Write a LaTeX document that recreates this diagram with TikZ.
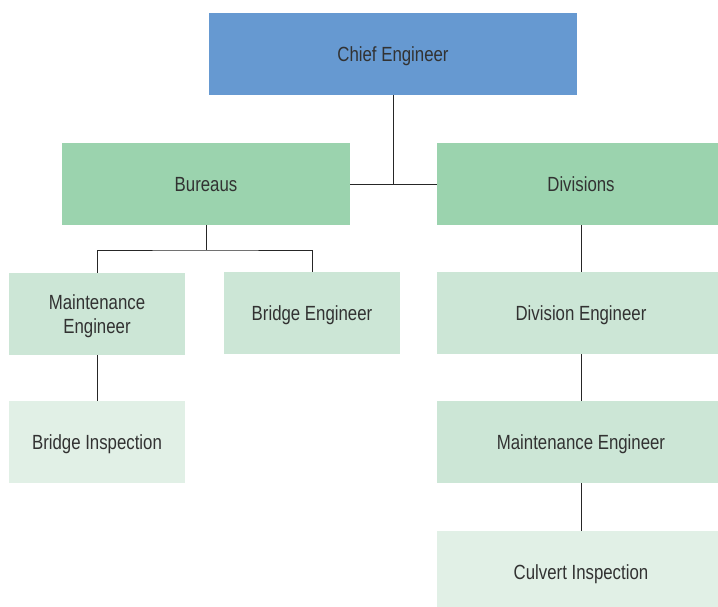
\documentclass[tikz,border=0pt]{standalone}
\usepackage{fontspec}
\setmainfont{Liberation Sans}[FakeStretch=0.82]
\usepackage{tikz}
\usetikzlibrary{positioning}

\definecolor{chiefblue}{RGB}{102,153,209}
\definecolor{levelgreen}{RGB}{155,211,174}
\definecolor{lightgreen}{RGB}{204,230,214}
\definecolor{palegreen}{RGB}{225,240,230}
\definecolor{textgray}{RGB}{50,50,50}

\begin{document}
\begin{tikzpicture}[x=1pt, y=-1pt,
      box/.style ={rectangle, draw=none, inner sep=0pt, text=textgray,
        align=center, minimum height=82pt, text depth=0pt,
        font=\fontsize{20.5}{24}\selectfont},
      block_top/.style ={box, fill=chiefblue, minimum width=368pt},
      block_wide/.style ={box, fill=levelgreen, minimum width=288pt},
      block_small/.style ={box, fill=lightgreen, minimum width=176pt},
      block_right/.style ={box, fill=lightgreen, minimum width=288pt},
      block_leaf/.style ={box, fill=palegreen, minimum width=176pt},
      block_leaf_right/.style ={box, fill=palegreen, minimum width=288pt},
      line/.style ={draw, line width=0.8pt, black!85}]
    %
    \useasboundingbox (0,0) rectangle (718,607);
    \clip (0,0) rectangle (718,607);
    %
    % 1. placing the boxes
    % top
    \node [block_top] (chief) at (393,54) {Chief Engineer};
    % second row
    \node [block_wide] (bureaus) at (206,184) {Bureaus};
    \node [block_wide] (divisions) at (581,184) {Divisions};
    % third row
    \node [block_small] (maint_l) at (97,314) {Maintenance\\Engineer};
    \node [block_small] (bridge_eng) at (312,313) {Bridge Engineer};
    \node [block_right] (div_eng) at (581,313) {Division Engineer};
    % fourth row
    \node [block_leaf] (bridge_insp) at (97,442) {Bridge Inspection};
    \node [block_right] (maint_r) at (581,442) {Maintenance Engineer};
    % fifth row
    \node [block_leaf_right] (culvert) at (581,572) {Culvert Inspection};
    %
    % 2. connecting nodes with paths
    \coordinate (bfork) at (206,250);
    \begin{scope}[every path/.style=line]
      \path (chief.south) -- (chief.south |- bureaus.east);
      \path (bureaus.east) -- (divisions.west);
      %
      \path (bureaus.south) -- (bfork);
      \path (maint_l.north) |- (bfork) -| (bridge_eng.north);
      \path (maint_l.south) -- (bridge_insp.north);
      %
      \path (divisions.south) -- (div_eng.north);
      \path (div_eng.south) -- (maint_r.north);
      \path (maint_r.south) -- (culvert.north);
    \end{scope}
\end{tikzpicture}
\end{document}
